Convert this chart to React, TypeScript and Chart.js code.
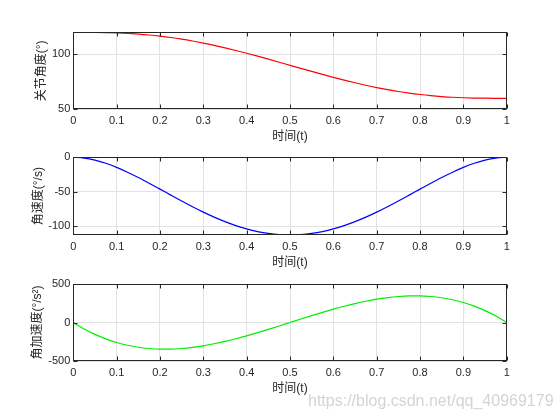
import React, { useEffect, useRef } from 'react';
import { Chart, registerables } from 'chart.js';

Chart.register(...registerables);

// ---- data ----
const timeValues = [
  0, 0.025, 0.05, 0.075, 0.1, 0.125, 0.15, 0.175, 0.2, 0.225, 0.25, 0.275, 0.3, 0.325, 0.35, 0.375, 0.4, 0.425, 0.45, 0.475,
  0.5, 0.525, 0.55, 0.575, 0.6, 0.625, 0.65, 0.675, 0.7, 0.725, 0.75, 0.775, 0.8, 0.825, 0.85, 0.875, 0.9, 0.925, 0.95, 0.975, 1,
];
const angleValues = [
  120, 119.99, 119.93, 119.77, 119.49, 119.04, 118.4, 117.57, 116.52, 115.26, 113.79, 112.1, 110.22, 108.14, 105.89, 103.49, 100.95, 98.31, 95.59, 92.81,
  90, 87.19, 84.41, 81.69, 79.05, 76.51, 74.11, 71.86, 69.78, 67.9, 66.21, 64.74, 63.48, 62.43, 61.6, 60.96, 60.51, 60.23, 60.07, 60.01, 60,
];
const velocityValues = [
  0, -1.07, -4.06, -8.66, -14.58, -21.53, -29.26, -37.52, -46.08, -54.73, -63.28, -71.55, -79.38, -86.63, -93.16, -98.88, -103.68, -107.49, -110.26, -111.94,
  -112.5, -111.94, -110.26, -107.49, -103.68, -98.88, -93.16, -86.63, -79.38, -71.55, -63.28, -54.73, -46.08, -37.52, -29.26, -21.53, -14.58, -8.66, -4.06, -1.07, 0,
];
const accelValues = [
  0, -83.4, -153.9, -212.3, -259.2, -295.3, -321.3, -337.8, -345.6, -345.3, -337.5, -323.0, -302.4, -276.4, -245.7, -210.9, -172.8, -132.0, -89.1, -44.9,
  0, 44.9, 89.1, 132.0, 172.8, 210.9, 245.7, 276.4, 302.4, 323.0, 337.5, 345.3, 345.6, 337.8, 321.3, 295.3, 259.2, 212.3, 153.9, 83.4, 0,
];

const xTicks = [0, 0.1, 0.2, 0.3, 0.4, 0.5, 0.6, 0.7, 0.8, 0.9, 1];
const angleTicks = [50, 100];
const velocityTicks = [-100, -50, 0];
const accelTicks = [-500, 0, 500];

const xTitle = '时间(t)';
const angleTitle = '关节角度(°)';
const velocityTitle = '角速度(°/s)';
const accelTitle = '角加速度(°/s²)';

const W = 560;
const H = 420;
const AXIS_COLOR = '#262626';
const GRID_COLOR = '#e2e2e2';
const TICK_FONT = { family: "'Liberation Sans', Arial, sans-serif", size: 11 };
const TITLE_FONT = { family: "'Liberation Sans', 'Noto Sans CJK SC', sans-serif", size: 12, lineHeight: 1.2 };
const TITLE_HALF = 12 * 1.2 / 2;

const frame = {
  id: 'matlabFrame',
  afterDraw(chart: any) {
    const { ctx, chartArea: a, scales } = chart;
    const x = scales.x;
    const y = scales.y;
    const L = Math.round(a.left) + 0.5;
    const R = Math.round(a.right) - 0.5;
    const T = Math.round(a.top) + 0.5;
    const B = Math.round(a.bottom) - 0.5;
    const len = 4;
    ctx.save();
    ctx.strokeStyle = AXIS_COLOR;
    ctx.lineWidth = 1;
    ctx.beginPath();
    x.ticks.forEach((t: any) => {
      const px = Math.round(x.getPixelForValue(t.value)) + 0.5;
      ctx.moveTo(px, B);
      ctx.lineTo(px, B - len);
      ctx.moveTo(px, T);
      ctx.lineTo(px, T + len);
    });
    y.ticks.forEach((t: any) => {
      const py = Math.round(y.getPixelForValue(t.value)) + 0.5;
      ctx.moveTo(L, py);
      ctx.lineTo(L + len, py);
      ctx.moveTo(R, py);
      ctx.lineTo(R - len, py);
    });
    ctx.stroke();
    ctx.strokeRect(L, T, R - L, B - T);
    ctx.restore();
  },
};

type Panel = {
  values: number[];
  color: string;
  yMin: number;
  yMax: number;
  yTicks: number[];
  yTitle: string;
  areaTop: number;
  areaBottom: number;
  xTitleY: number;
  yTitleX: number;
};

const AREA_LEFT = 73.3;
const AREA_RIGHT = 506.7;

const panels: Panel[] = [
  { values: angleValues, color: '#ff0000', yMin: 50, yMax: 120, yTicks: angleTicks, yTitle: angleTitle, areaTop: 32.3, areaBottom: 109.3, xTitleY: 136.7, yTitleX: 42 },
  { values: velocityValues, color: '#0000ff', yMin: -112.5, yMax: 0, yTicks: velocityTicks, yTitle: velocityTitle, areaTop: 157.3, areaBottom: 235, xTitleY: 262.4, yTitleX: 39 },
  { values: accelValues, color: '#00ee00', yMin: -500, yMax: 500, yTicks: accelTicks, yTitle: accelTitle, areaTop: 284, areaBottom: 361, xTitleY: 388.4, yTitleX: 38 },
];

function makeConfig(p: Panel): any {
  const xHeight = p.xTitleY - p.areaBottom + TITLE_HALF;
  const padBottom = H - p.areaBottom - xHeight;
  return {
    type: 'line',
    data: {
      datasets: [
        {
          data: timeValues.map((t, i) => ({ x: t, y: p.values[i] })),
          borderColor: p.color,
          borderWidth: 1.2,
          pointRadius: 0,
          fill: false,
          cubicInterpolationMode: 'monotone',
        },
      ],
    },
    options: {
      animation: false,
      responsive: false,
      events: [],
      layout: {
        padding: { top: p.areaTop, bottom: padBottom, left: 0, right: W - AREA_RIGHT },
      },
      plugins: { legend: { display: false }, tooltip: { enabled: false } },
      scales: {
        x: {
          type: 'linear',
          min: 0,
          max: 1,
          afterBuildTicks: (s: any) => { s.ticks = xTicks.map((v) => ({ value: v })); },
          afterFit: (s: any) => { s.height = xHeight; },
          ticks: { autoSkip: false, maxRotation: 0, padding: 5, color: AXIS_COLOR, font: TICK_FONT, callback: (v: any) => String(v) },
          grid: { color: GRID_COLOR, drawTicks: false, lineWidth: 1 },
          border: { display: false },
          title: { display: true, text: xTitle, color: AXIS_COLOR, font: TITLE_FONT, padding: { top: 0, bottom: 0 } },
        },
        y: {
          type: 'linear',
          min: p.yMin,
          max: p.yMax,
          afterBuildTicks: (s: any) => { s.ticks = p.yTicks.map((v) => ({ value: v })); },
          afterFit: (s: any) => { s.width = AREA_LEFT; },
          ticks: { autoSkip: false, padding: 3, color: AXIS_COLOR, font: TICK_FONT, callback: (v: any) => String(v) },
          grid: { color: GRID_COLOR, drawTicks: false, lineWidth: 1 },
          border: { display: false },
          title: { display: true, text: p.yTitle, color: AXIS_COLOR, font: TITLE_FONT, padding: { top: p.yTitleX - TITLE_HALF, bottom: 0 } },
        },
      },
    },
    plugins: [frame],
  };
}

export default function App() {
  const refs = [useRef<HTMLCanvasElement>(null), useRef<HTMLCanvasElement>(null), useRef<HTMLCanvasElement>(null)];
  useEffect(() => {
    const charts = panels.map((p, i) => new Chart(refs[i].current as HTMLCanvasElement, makeConfig(p)));
    return () => charts.forEach((c) => c.destroy());
  }, []);
  return (
    <div style={{ position: 'fixed', left: 0, top: 0, width: W, height: H, background: '#ffffff', overflow: 'hidden' }}>
      {panels.map((_, i) => (
        <canvas
          key={i}
          ref={refs[i]}
          width={W}
          height={H}
          style={{ position: 'absolute', left: 0, top: 0, width: W, height: H }}
        />
      ))}
      <div
        style={{
          position: 'absolute',
          left: 308,
          top: 393,
          fontFamily: "'Liberation Sans', Arial, sans-serif",
          fontSize: 16,
          lineHeight: '16px',
          color: '#d4d4d4',
          whiteSpace: 'nowrap',
        }}
      >
        https://blog.csdn.net/qq_40969179
      </div>
    </div>
  );
}
